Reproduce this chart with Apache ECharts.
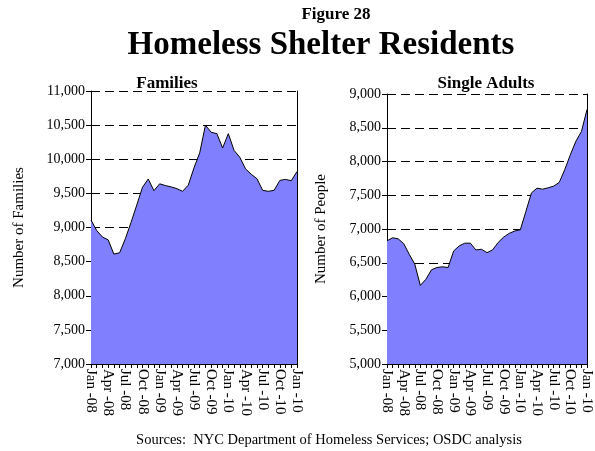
<!DOCTYPE html>
<html>
<head>
<meta charset="utf-8">
<script src="https://cdn.jsdelivr.net/npm/echarts@6/dist/echarts.min.js"></script>
<style>
html,body{margin:0;padding:0;background:#fff;}
#c{width:595px;height:451px;}
</style>
</head>
<body>
<div id="c"></div>
<script>
const months = ['Jan -08','Feb -08','Mar -08','Apr -08','May -08','Jun -08','Jul -08','Aug -08','Sep -08','Oct -08','Nov -08','Dec -08',
'Jan -09','Feb -09','Mar -09','Apr -09','May -09','Jun -09','Jul -09','Aug -09','Sep -09','Oct -09','Nov -09','Dec -09',
'Jan -10','Feb -10','Mar -10','Apr -10','May -10','Jun -10','Jul -10','Aug -10','Sep -10','Oct -10','Nov -10','Dec -10','Jan -10'];
const families = [9110, 8955, 8860, 8820, 8610, 8630, 8835, 9075, 9330, 9590, 9710, 9540,
  9640, 9615, 9595, 9570, 9530, 9620, 9875, 10095, 10500, 10395, 10375, 10165,
  10375, 10130, 10030, 9860, 9780, 9715, 9545, 9530, 9545, 9690, 9705, 9685, 9820];
const singleAdults = [6825, 6870, 6855, 6785, 6625, 6480, 6165, 6255, 6395, 6430, 6440, 6430,
  6675, 6750, 6790, 6790, 6690, 6700, 6650, 6690, 6800, 6880, 6935, 6970,
  6990, 7260, 7535, 7605, 7590, 7610, 7635, 7690, 7880, 8100, 8300, 8445, 8770];
const familiesAxis = {min: 7000, max: 11000, interval: 500};
const adultsAxis = {min: 5000, max: 9000, interval: 500};

const FONT = '"Liberation Serif", "Times New Roman", serif';
const chart = echarts.init(document.getElementById('c'), null, {renderer: 'canvas'});

function xAxisCfg(gi) {
  return {
    type: 'category', gridIndex: gi, data: months, boundaryGap: false,
    axisLine: {show: true, lineStyle: {color: '#000', width: 1}},
    axisTick: {show: true, interval: 0, length: 4, lineStyle: {color: '#000'}},
    axisLabel: {interval: 2, rotate: -90, fontFamily: FONT, fontSize: 15, color: '#000', margin: 5},
    splitLine: {show: false}
  };
}
function yAxisCfg(gi, ax, name, gap) {
  return {
    type: 'value', gridIndex: gi, min: ax.min, max: ax.max, interval: ax.interval,
    name: name, nameLocation: 'middle', nameGap: gap, nameRotate: 90,
    nameTextStyle: {fontFamily: FONT, fontSize: 15, color: '#000'},
    axisLine: {show: true, lineStyle: {color: '#000', width: 1}},
    axisTick: {show: true, length: 5, lineStyle: {color: '#000'}},
    axisLabel: {fontFamily: FONT, fontSize: 14, color: '#000', margin: 6,
      formatter: v => v.toLocaleString('en-US')},
    splitLine: {show: true, lineStyle: {color: '#000', width: 1, type: [9, 5]}}
  };
}
function yRightCfg(gi, ax) {
  return {
    type: 'value', gridIndex: gi, min: ax.min, max: ax.max, interval: ax.interval, position: 'right',
    axisLine: {show: true, lineStyle: {color: '#000', width: 1}},
    axisTick: {show: false}, axisLabel: {show: false}, splitLine: {show: false}
  };
}
function areaSeries(xi, yi, data) {
  return {
    type: 'line', xAxisIndex: xi, yAxisIndex: yi, data: data, symbol: 'none', smooth: false,
    lineStyle: {color: '#000', width: 1},
    areaStyle: {color: '#8080ff', opacity: 1},
    z: 2
  };
}

chart.setOption({
  animation: false,
  backgroundColor: '#fff',
  title: [
    {text: 'Figure 28', left: 331, top: 1, textAlign: 'center',
      textStyle: {fontFamily: FONT, fontSize: 17, fontWeight: 'bold', color: '#000'}},
    {text: 'Homeless Shelter Residents', left: 316, top: 24, textAlign: 'center',
      textStyle: {fontFamily: FONT, fontSize: 33, fontWeight: 'bold', color: '#000'}},
    {text: 'Families', left: 162, top: 70, textAlign: 'center',
      textStyle: {fontFamily: FONT, fontSize: 17, fontWeight: 'bold', color: '#000'}},
    {text: 'Single Adults', left: 481, top: 70, textAlign: 'center',
      textStyle: {fontFamily: FONT, fontSize: 17, fontWeight: 'bold', color: '#000'}},
    {text: 'Sources:  NYC Department of Homeless Services; OSDC analysis', left: 324, top: 428, textAlign: 'center',
      textStyle: {fontFamily: FONT, fontSize: 14.5, fontWeight: 'normal', color: '#000'}}
  ],
  grid: [
    {left: 91, right: 298, top: 91, bottom: 87},
    {left: 387, right: 8, top: 94, bottom: 87}
  ],
  xAxis: [xAxisCfg(0), xAxisCfg(1)],
  yAxis: [
    yAxisCfg(0, familiesAxis, 'Number of Families', 64),
    yAxisCfg(1, adultsAxis, 'Number of People', 58),
    yRightCfg(0, familiesAxis),
    yRightCfg(1, adultsAxis)
  ],
  series: [
    areaSeries(0, 0, families),
    areaSeries(1, 1, singleAdults)
  ]
});
</script>
</body>
</html>
